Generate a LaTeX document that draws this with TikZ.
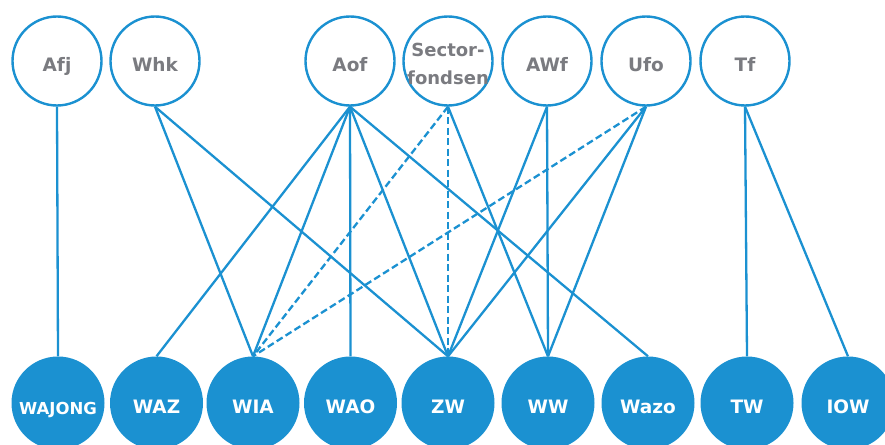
\documentclass[tikz,border=0pt]{standalone}
\usepackage{fontspec}
\setmainfont{DejaVu Sans}
\definecolor{fblue}{RGB}{27,145,209}
\definecolor{fgray}{RGB}{122,123,128}
\begin{document}
\begin{tikzpicture}[x=1pt,y=-1pt,
  topc/.style={circle,draw=fblue,fill=white,line width=2.4pt,minimum size=89pt,inner sep=0pt,
    text=fgray,font=\bfseries\fontsize{18.5}{28}\selectfont,text height=20pt,text depth=0pt},
  botc/.style={circle,fill=fblue,minimum size=93pt,inner sep=0pt,
    text=white,font=\bfseries\fontsize{18.5}{22}\selectfont,text height=21pt,text depth=0pt},
  link/.style={draw=fblue,line width=2.3pt},
  dlink/.style={link,dash pattern=on 7pt off 3.5pt}]
\useasboundingbox (0,0) rectangle (885,444);
\clip (0,0) rectangle (885,444);
% top row
\node[topc] (afj) at (57,61) {Afj};
\node[topc] (whk) at (155,61) {Whk};
\node[topc] (aof) at (350,61) {Aof};
\node[topc] (sec) at (448,61) {};
\node[text=fgray,font=\bfseries\fontsize{18}{28}\selectfont,align=center,anchor=base,inner sep=0pt] (sectxt) at (448,84) {Sector-\\fondsen};
\node[topc] (awf) at (547,61) {AWf};
\node[topc] (ufo) at (646,61) {Ufo};
\node[topc] (tf) at (745,61) {Tf};
% bottom row
\node[botc,font=\bfseries\fontsize{16.5}{20}\selectfont,text height=22pt] (wajong) at (58,403) {WAJONG};
\node[botc] (waz) at (156.5,403) {WAZ};
\node[botc] (wia) at (253,403) {WIA};
\node[botc] (wao) at (350.5,403) {WAO};
\node[botc] (zw) at (448,403) {ZW};
\node[botc] (ww) at (548,403) {WW};
\node[botc] (wazo) at (648,403) {Wazo};
\node[botc] (tw) at (747,403) {TW};
\node[botc] (iow) at (848,403) {IOW};
% edges
\draw[link] (afj.south) -- (wajong.north);
\draw[link] (whk.south) -- (wia.north);
\draw[link] (whk.south) -- (zw.north);
\draw[link] (aof.south) -- (waz.north);
\draw[link] (aof.south) -- (wia.north);
\draw[link] (aof.south) -- (wao.north);
\draw[link] (aof.south) -- (zw.north);
\draw[link] (aof.south) -- (wazo.north);
\draw[link] (sec.south) -- (ww.north);
\draw[dlink] (sec.south) -- (wia.north);
\draw[dlink] (sec.south) -- (zw.north);
\draw[link] (awf.south) -- (zw.north);
\draw[link] (awf.south) -- (ww.north);
\draw[link] (ufo.south) -- (zw.north);
\draw[link] (ufo.south) -- (ww.north);
\draw[dlink] (ufo.south) -- (wia.north);
\draw[link] (tf.south) -- (tw.north);
\draw[link] (tf.south) -- (iow.north);
\end{tikzpicture}
\end{document}
